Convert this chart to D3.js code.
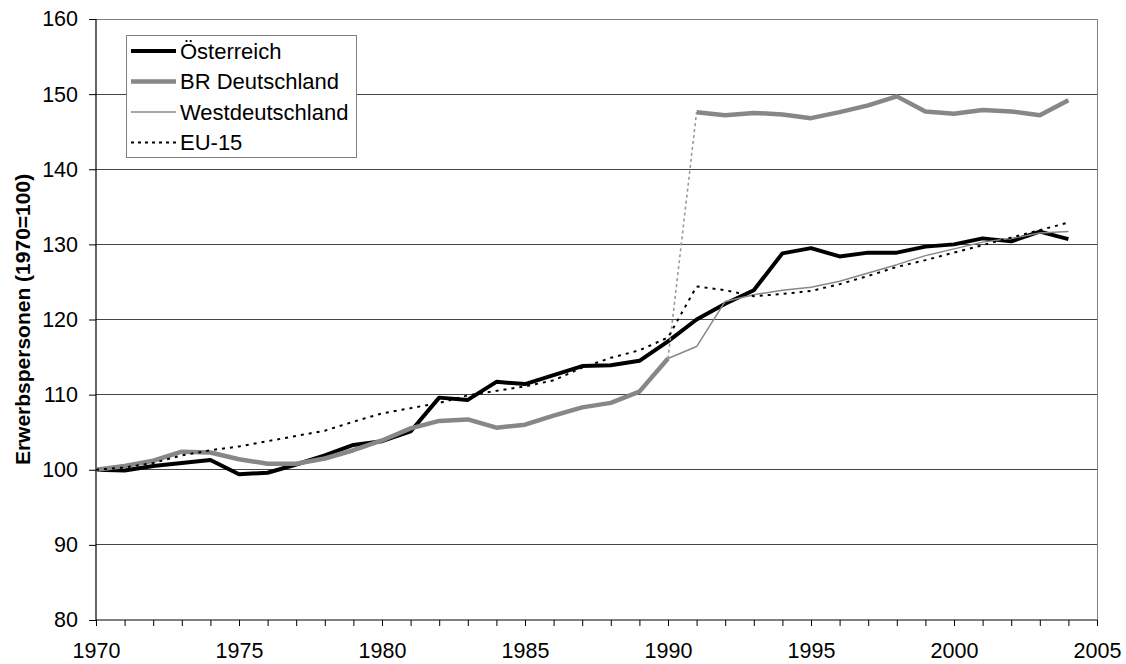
<!DOCTYPE html>
<html>
<head>
<meta charset="utf-8">
<script src="https://cdn.jsdelivr.net/npm/d3@7"></script>
<style>
  body { margin: 0; background: #fff; }
  svg { display: block; }
  text { font-family: "Liberation Sans", Arial, sans-serif; fill: #000; }
</style>
</head>
<body>
<svg id="chart" width="1126" height="664"></svg>
<script>
const years = [1970,1971,1972,1973,1974,1975,1976,1977,1978,1979,1980,1981,1982,1983,1984,1985,1986,1987,1988,1989,1990,1991,1992,1993,1994,1995,1996,1997,1998,1999,2000,2001,2002,2003,2004];
const oesterreich = [100.0,99.9,100.5,100.9,101.3,99.4,99.6,100.7,101.9,103.3,103.8,105.1,109.6,109.3,111.7,111.4,112.6,113.8,113.9,114.5,117.1,120.0,122.1,123.9,128.8,129.5,128.4,128.9,128.9,129.7,130.0,130.8,130.4,131.7,130.7];
const brDeutschland = [100.0,100.5,101.2,102.4,102.3,101.4,100.8,100.8,101.5,102.6,103.9,105.5,106.5,106.7,105.6,106.0,107.2,108.3,108.9,110.4,114.8,147.6,147.2,147.5,147.3,146.8,147.6,148.5,149.7,147.7,147.4,147.9,147.7,147.2,149.2];
const westdeutschland = [null,null,null,null,null,null,null,null,null,null,null,null,null,null,null,null,null,null,null,null,114.8,116.4,122.4,123.3,123.9,124.3,125.1,126.2,127.3,128.5,129.4,130.3,130.8,131.5,131.7];
const eu15 = [100.0,100.3,100.9,101.9,102.6,103.1,103.8,104.5,105.2,106.4,107.5,108.2,108.9,109.9,110.5,111.1,111.9,113.6,114.9,115.9,117.6,124.4,123.9,123.1,123.4,123.8,124.7,125.8,127.0,127.9,128.9,129.9,130.9,131.9,132.9];
const brBreakYear = 1991; // reunification: connector drawn dotted
const yTicks = [80,90,100,110,120,130,140,150,160];
const xLabelYears = [1970,1975,1980,1985,1990,1995,2000,2005];
const legendLabels = ["Österreich","BR Deutschland","Westdeutschland","EU-15"];
const yTitle = "Erwerbspersonen (1970=100)";

const svg = d3.select("#chart");
const L = 96, R = 1097, T = 19, B = 620;
const x = d3.scaleLinear().domain([1970, 2005]).range([L, R]);
const y = d3.scaleLinear().domain([80, 160]).range([B, T]);

// gridlines
svg.append("g").selectAll("line").data(yTicks.filter(v => v > 80 && v < 160)).join("line")
  .attr("x1", L).attr("x2", R).attr("y1", d => y(d)).attr("y2", d => y(d))
  .attr("stroke", "#444").attr("stroke-width", 1).attr("shape-rendering", "crispEdges");
// plot border top/right
svg.append("path").attr("d", `M${L},${y(160)}H${R}V${B}`).attr("fill", "none")
  .attr("stroke", "#808080").attr("stroke-width", 1).attr("shape-rendering", "crispEdges");

// axes
const yAxis = d3.axisLeft(y).tickValues(yTicks).tickSize(7).tickPadding(11).tickFormat(d3.format("d"));
const gy = svg.append("g").attr("transform", `translate(${L},0)`).call(yAxis);
const xTickVals = d3.range(1970, 2006);
const xAxis = d3.axisBottom(x).tickValues(xTickVals).tickSize(6).tickPadding(17)
  .tickFormat(d => xLabelYears.includes(d) ? String(d) : "");
const gx = svg.append("g").attr("transform", `translate(0,${B})`).call(xAxis);
[gx, gy].forEach(g => {
  g.select(".domain").attr("stroke", "#000").attr("stroke-width", 1.2);
  g.selectAll(".tick line").attr("stroke", "#000").attr("stroke-width", 1);
  g.selectAll("text").attr("font-size", 21.5).attr("font-family", "'Liberation Sans', Arial, sans-serif").attr("fill", "#000");
});
gy.select(".domain").attr("d", `M-0,${B}V${T}`);
gx.select(".domain").attr("d", `M${L},0H${R}`);

// y title
svg.append("text").attr("transform", `translate(30,${(T + B) / 2}) rotate(-90)`)
  .attr("text-anchor", "middle").attr("font-size", 21).attr("font-weight", "bold").text(yTitle);

const mk = arr => years.map((yr, i) => ({ yr, v: arr[i] }));
const line = d3.line().defined(d => d.v != null).x(d => x(d.yr)).y(d => y(d.v));

const oeData = mk(oesterreich);
const brData = mk(brDeutschland);
const wdData = mk(westdeutschland);
const euData = mk(eu15);
const brBefore = brData.filter(d => d.yr < brBreakYear);
const brAfter = brData.filter(d => d.yr >= brBreakYear);
const brConn = [brBefore[brBefore.length - 1], brAfter[0]];

const g = svg.append("g").attr("fill", "none").attr("stroke-linejoin", "round");
g.append("path").datum(oeData).attr("d", line).attr("stroke", "#000").attr("stroke-width", 4);
g.append("path").datum(brBefore).attr("d", line).attr("stroke", "#878787").attr("stroke-width", 4.5);
g.append("path").datum(brConn).attr("d", line).attr("stroke", "#999").attr("stroke-width", 1.6).attr("stroke-dasharray", "3,3");
g.append("path").datum(brAfter).attr("d", line).attr("stroke", "#878787").attr("stroke-width", 4.5);
g.append("path").datum(wdData).attr("d", line).attr("stroke", "#888").attr("stroke-width", 1.5);
g.append("path").datum(euData).attr("d", line).attr("stroke", "#000").attr("stroke-width", 2).attr("stroke-dasharray", "3,5");

// legend
const styles = [
  { stroke: "#000", w: 4, dash: null },
  { stroke: "#878787", w: 4.5, dash: null },
  { stroke: "#888", w: 1.5, dash: null },
  { stroke: "#000", w: 2, dash: "3,4" }
];
const lg = svg.append("g");
lg.append("rect").attr("x", 126.5).attr("y", 35.5).attr("width", 230).attr("height", 122)
  .attr("fill", "#fff").attr("stroke", "#808080").attr("stroke-width", 1);
const rowY = [51, 81.5, 112, 142.5];
legendLabels.forEach((lab, i) => {
  lg.append("line").attr("x1", 131).attr("x2", 176).attr("y1", rowY[i]).attr("y2", rowY[i])
    .attr("stroke", styles[i].stroke).attr("stroke-width", styles[i].w)
    .attr("stroke-dasharray", styles[i].dash);
  lg.append("text").attr("x", 180).attr("y", rowY[i]).attr("dy", "0.36em")
    .attr("font-size", 22).text(lab);
});
</script>
</body>
</html>
